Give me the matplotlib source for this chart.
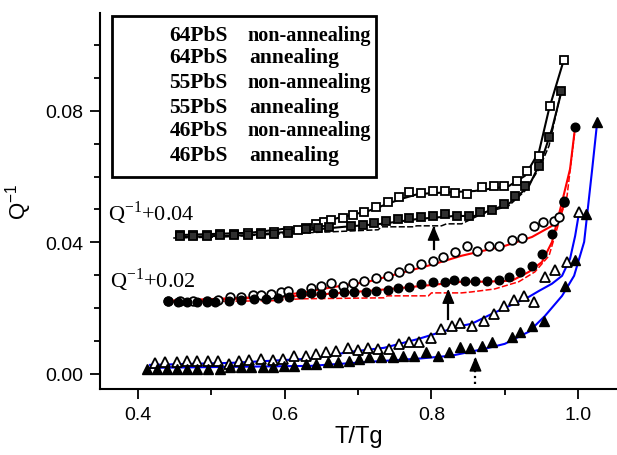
import matplotlib
matplotlib.use("Agg")
import matplotlib.pyplot as plt
from matplotlib.patches import Rectangle
from matplotlib.ticker import MultipleLocator, FormatStrFormatter

plt.rcParams['font.family'] = ['Liberation Sans', 'DejaVu Sans']
plt.rcParams['mathtext.fontset'] = 'custom'
plt.rcParams['mathtext.rm'] = 'Liberation Serif'
plt.rcParams['mathtext.sf'] = 'Liberation Sans'

# ---------------- 64PbS (curves shifted by +0.04) ----------------
x64_non = [0.4575, 0.4753, 0.4945, 0.5123, 0.5301, 0.5493, 0.5671, 0.5849, 0.6041, 0.6178,
           0.6288, 0.6425, 0.6534, 0.6630, 0.6795, 0.6932, 0.7082, 0.7247, 0.7411, 0.7562,
           0.7699, 0.7863, 0.8027, 0.8178, 0.8315, 0.8479, 0.8685, 0.8849, 0.8986, 0.9164,
           0.9301, 0.9466, 0.9616, 0.9808]
y64_non = [0.0422, 0.0422, 0.0422, 0.0426, 0.0426, 0.0429, 0.0429, 0.0432, 0.0435, 0.0438,
           0.0444, 0.0456, 0.0462, 0.0468, 0.0474, 0.0483, 0.0492, 0.0508, 0.0523, 0.0538,
           0.0553, 0.0550, 0.0556, 0.0556, 0.0550, 0.0547, 0.0568, 0.0571, 0.0571, 0.0587,
           0.0617, 0.0663, 0.0815, 0.0954]
x64_ann = [0.4575, 0.4753, 0.4945, 0.5123, 0.5301, 0.5493, 0.5671, 0.5849, 0.6041, 0.6288,
           0.6452, 0.6603, 0.6904, 0.7068, 0.7219, 0.7384, 0.7548, 0.7699, 0.7863, 0.8027,
           0.8178, 0.8342, 0.8507, 0.8658, 0.8822, 0.8986, 0.9137, 0.9274, 0.9466, 0.9603,
           0.9767]
y64_ann = [0.0419, 0.0419, 0.0419, 0.0422, 0.0422, 0.0422, 0.0426, 0.0426, 0.0429, 0.0441,
           0.0444, 0.0447, 0.0450, 0.0453, 0.0459, 0.0465, 0.0471, 0.0474, 0.0477, 0.0480,
           0.0486, 0.0480, 0.0480, 0.0492, 0.0498, 0.0517, 0.0541, 0.0571, 0.0632, 0.0720,
           0.0860]
x64_raw = [0.4479, 0.5151, 0.5973, 0.6658, 0.7274, 0.7315, 0.7767, 0.7795, 0.8137, 0.8205,
           0.8411, 0.8685, 0.9055, 0.9274, 0.9466, 0.9603, 0.9753]
y64_raw = [0.0413, 0.0416, 0.0426, 0.0432, 0.0438, 0.0447, 0.0447, 0.0450, 0.0450, 0.0456,
           0.0456, 0.0486, 0.0511, 0.0556, 0.0623, 0.0693, 0.0845]
x64_non_fit = [0.4575, 0.5534, 0.6219, 0.6671, 0.7137, 0.7589, 0.7822, 0.8315, 0.8589, 0.9055,
               0.9274, 0.9466, 0.9603, 0.9808]
y64_non_fit = [0.0422, 0.0429, 0.0447, 0.0471, 0.0495, 0.0532, 0.0547, 0.0553, 0.0556, 0.0571,
               0.0602, 0.0675, 0.0805, 0.0957]
x64_ann_fit = [0.4575, 0.5534, 0.6219, 0.6808, 0.7315, 0.7822, 0.8315, 0.8589, 0.9055, 0.9329,
               0.9507, 0.9644, 0.9781]
y64_ann_fit = [0.0416, 0.0422, 0.0435, 0.0447, 0.0456, 0.0471, 0.0480, 0.0480, 0.0517, 0.0571,
               0.0653, 0.0745, 0.0866]

# ---------------- 55PbS (curves shifted by +0.02) ----------------
x55_non = [0.4411, 0.4575, 0.4753, 0.4945, 0.5096, 0.5260, 0.5397, 0.5562, 0.5671, 0.5808,
           0.5945, 0.6041, 0.6219, 0.6356, 0.6493, 0.6630, 0.6795, 0.6932, 0.7082, 0.7247,
           0.7411, 0.7562, 0.7699, 0.7863, 0.8027, 0.8164, 0.8315, 0.8479, 0.8616, 0.8781,
           0.8918, 0.9096, 0.9233, 0.9397, 0.9521, 0.9671, 0.9740, 0.9808]
y55_non = [0.0222, 0.0222, 0.0222, 0.0222, 0.0225, 0.0234, 0.0234, 0.0240, 0.0240, 0.0243,
           0.0249, 0.0252, 0.0246, 0.0261, 0.0267, 0.0277, 0.0267, 0.0277, 0.0283, 0.0292,
           0.0298, 0.0310, 0.0322, 0.0334, 0.0343, 0.0356, 0.0371, 0.0389, 0.0374, 0.0389,
           0.0389, 0.0407, 0.0413, 0.0450, 0.0462, 0.0465, 0.0477, 0.0523]
x55_ann = [0.4411, 0.4548, 0.4671, 0.4808, 0.4945, 0.5055, 0.5233, 0.5397, 0.5575, 0.5740,
           0.5904, 0.6055, 0.6219, 0.6356, 0.6493, 0.6658, 0.6808, 0.6945, 0.7110, 0.7247,
           0.7411, 0.7548, 0.7699, 0.7863, 0.8027, 0.8178, 0.8301, 0.8452, 0.8589, 0.8753,
           0.8918, 0.9055, 0.9205, 0.9370, 0.9507, 0.9644, 0.9808, 0.9959]
y55_ann = [0.0222, 0.0219, 0.0219, 0.0219, 0.0219, 0.0219, 0.0222, 0.0225, 0.0228, 0.0228,
           0.0231, 0.0234, 0.0243, 0.0246, 0.0243, 0.0246, 0.0249, 0.0249, 0.0249, 0.0252,
           0.0255, 0.0261, 0.0264, 0.0274, 0.0280, 0.0280, 0.0286, 0.0283, 0.0283, 0.0283,
           0.0286, 0.0295, 0.0310, 0.0328, 0.0365, 0.0426, 0.0526, 0.0751]
x55_raw = [0.4411, 0.5808, 0.6219, 0.7356, 0.7397, 0.7959, 0.8000, 0.8411, 0.8548, 0.8863,
           0.9192, 0.9411, 0.9603, 0.9740, 0.9849, 0.9959]
y55_raw = [0.0219, 0.0222, 0.0228, 0.0231, 0.0237, 0.0237, 0.0246, 0.0246, 0.0249, 0.0258,
           0.0280, 0.0310, 0.0359, 0.0462, 0.0541, 0.0745]
x55_non_fit = [0.4397, 0.5767, 0.6219, 0.6671, 0.7137, 0.7589, 0.8041, 0.8411, 0.8644, 0.9000,
               0.9370, 0.9644, 0.9808]
y55_non_fit = [0.0222, 0.0234, 0.0246, 0.0264, 0.0280, 0.0307, 0.0334, 0.0359, 0.0371, 0.0389,
               0.0416, 0.0450, 0.0510]
x55_ann_fit = [0.4397, 0.6219, 0.7137, 0.7589, 0.8041, 0.8411, 0.8726, 0.9096, 0.9329, 0.9507,
               0.9644, 0.9781, 0.9890, 0.9959]
y55_ann_fit = [0.0219, 0.0237, 0.0252, 0.0261, 0.0271, 0.0280, 0.0280, 0.0283, 0.0310, 0.0340,
               0.0401, 0.0523, 0.0623, 0.0751]

# ---------------- 46PbS (no shift) ----------------
x46_non = [0.4233, 0.4370, 0.4534, 0.4671, 0.4808, 0.4959, 0.5096, 0.5233, 0.5370, 0.5507,
           0.5671, 0.5836, 0.5973, 0.6123, 0.6288, 0.6425, 0.6562, 0.6699, 0.6863, 0.7000,
           0.7137, 0.7274, 0.7425, 0.7562, 0.7699, 0.7836, 0.8000, 0.8137, 0.8274, 0.8384,
           0.8548, 0.8712, 0.8849, 0.8986, 0.9123, 0.9260, 0.9397, 0.9548, 0.9685, 0.9849,
           1.0014]
y46_non = [0.0033, 0.0036, 0.0036, 0.0040, 0.0040, 0.0040, 0.0040, 0.0030, 0.0040, 0.0043,
           0.0046, 0.0043, 0.0046, 0.0055, 0.0055, 0.0061, 0.0067, 0.0070, 0.0079, 0.0073,
           0.0079, 0.0076, 0.0076, 0.0091, 0.0097, 0.0097, 0.0109, 0.0137, 0.0146, 0.0155,
           0.0146, 0.0161, 0.0182, 0.0207, 0.0225, 0.0237, 0.0219, 0.0295, 0.0316, 0.0340,
           0.0492]
x46_ann = [0.4123, 0.4260, 0.4397, 0.4534, 0.4671, 0.4808, 0.4959, 0.5123, 0.5260, 0.5397,
           0.5534, 0.5699, 0.5836, 0.5986, 0.6123, 0.6288, 0.6425, 0.6589, 0.6726, 0.6877,
           0.7014, 0.7151, 0.7315, 0.7479, 0.7616, 0.7767, 0.7932, 0.8096, 0.8233, 0.8384,
           0.8521, 0.8685, 0.8822, 0.9096, 0.9205, 0.9370, 0.9534, 0.9822, 0.9959, 1.0110,
           1.0260]
y46_ann = [0.0015, 0.0015, 0.0015, 0.0015, 0.0015, 0.0015, 0.0015, 0.0015, 0.0021, 0.0021,
           0.0021, 0.0021, 0.0021, 0.0024, 0.0024, 0.0030, 0.0030, 0.0036, 0.0036, 0.0040,
           0.0046, 0.0052, 0.0052, 0.0052, 0.0055, 0.0055, 0.0067, 0.0055, 0.0067, 0.0082,
           0.0079, 0.0085, 0.0097, 0.0112, 0.0128, 0.0146, 0.0161, 0.0267, 0.0347, 0.0486,
           0.0766]
x46_non_fit = [0.4164, 0.5260, 0.6356, 0.6904, 0.7356, 0.7822, 0.8411, 0.8548, 0.8822, 0.9068,
               0.9329, 0.9466, 0.9644, 0.9781, 0.9890, 0.9959, 1.0014]
y46_non_fit = [0.0027, 0.0033, 0.0046, 0.0067, 0.0079, 0.0106, 0.0146, 0.0152, 0.0182, 0.0207,
               0.0234, 0.0252, 0.0274, 0.0298, 0.0350, 0.0419, 0.0492]
x46_ann_fit = [0.4164, 0.6356, 0.7137, 0.7822, 0.8274, 0.8726, 0.9000, 0.9329, 0.9548, 0.9781,
               0.9945, 1.0082, 1.0192, 1.0260]
y46_ann_fit = [0.0018, 0.0024, 0.0036, 0.0046, 0.0055, 0.0076, 0.0091, 0.0128, 0.0176, 0.0237,
               0.0298, 0.0401, 0.0623, 0.0766]

legend_samples = ["64PbS", "64PbS", "55PbS", "55PbS", "46PbS", "46PbS"]
legend_states = ["non-annealing", "annealing", "non-annealing", "annealing",
                 "non-annealing", "annealing"]

# arrows marking the onset temperatures
arrow_x = [0.803, 0.823, 0.860]
arrow_y0 = [0.0380, 0.0167, -0.0030]
arrow_y1 = [0.0450, 0.0258, 0.0052]
arrow_ls = ["-", "-", ":"]

fig = plt.figure(figsize=(6.17, 4.56), dpi=100)
ax = fig.add_axes([0.162, 0.145, 0.838, 0.824])

# fitted curves and raw traces
ax.plot(x64_non_fit, y64_non_fit, color='black', lw=1.5, zorder=2)
ax.plot(x64_ann_fit, y64_ann_fit, color='black', lw=1.5, zorder=2)
ax.plot(x64_raw, y64_raw, color='black', lw=1.1, ls=(0, (4, 1.5)), zorder=2)
ax.plot(x55_non_fit, y55_non_fit, color='red', lw=1.5, zorder=2)
ax.plot(x55_ann_fit, y55_ann_fit, color='red', lw=1.5, zorder=2)
ax.plot(x55_raw, y55_raw, color='red', lw=1.1, ls=(0, (4, 1.5)), zorder=2)
ax.plot(x46_non_fit, y46_non_fit, color='blue', lw=1.5, zorder=2)
ax.plot(x46_ann_fit, y46_ann_fit, color='blue', lw=1.5, zorder=2)

# measured points
ax.plot(x64_non, y64_non, ls='none', marker='s', ms=5.8, mfc='white', mec='black', mew=1.3, zorder=3)
ax.plot(x64_ann, y64_ann, ls='none', marker='s', ms=5.8, mfc='#303030', mec='black', mew=1.3, zorder=3)
ax.plot(x55_non, y55_non, ls='none', marker='o', ms=6.2, mfc='white', mec='black', mew=1.3, zorder=3)
ax.plot(x55_ann, y55_ann, ls='none', marker='o', ms=6.2, mfc='black', mec='black', mew=1.0, zorder=3)
ax.plot(x46_non, y46_non, ls='none', marker='^', ms=7.5, mfc='white', mec='black', mew=1.3, zorder=3)
ax.plot(x46_ann, y46_ann, ls='none', marker='^', ms=7.5, mfc='black', mec='black', mew=1.0, zorder=3)

for xa, ya0, ya1, lsa in zip(arrow_x, arrow_y0, arrow_y1, arrow_ls):
    ax.plot([xa, xa], [ya0, ya1 - 0.0008], color='black', lw=1.6, ls=lsa, zorder=4)
    ax.annotate('', xy=(xa, ya1), xytext=(xa, ya1 - 0.0022),
                arrowprops=dict(arrowstyle='-|>,head_length=0.9,head_width=0.38',
                                mutation_scale=10, color='black', lw=1.0,
                                shrinkA=0, shrinkB=0),
                zorder=4)

serif = ['Liberation Serif', 'DejaVu Serif']
ax.text(0.359, 0.0490, r'Q$^{-1}$+0.04', family=serif, fontsize=16, va='center', ha='left')
ax.text(0.362, 0.0287, r'Q$^{-1}$+0.02', family=serif, fontsize=16, va='center', ha='left')

# boxed sample key
ax.add_patch(Rectangle((0.3644, 0.0599), 0.3603, 0.0489, fill=False, lw=2.0,
                       edgecolor='black', zorder=5))
row_y = [0.1031, 0.0964, 0.0888, 0.0812, 0.0742, 0.0666]
for yy, s, st in zip(row_y, legend_samples, legend_states):
    ax.text(0.4425, yy, s, family=serif, fontweight='bold', fontsize=15.5, va='center', ha='left')
    ax.text(0.5493 if st == 'non-annealing' else 0.5520, yy, st, family=serif,
            fontweight='bold', fontsize=14.5 if st == 'non-annealing' else 15.5,
            va='center', ha='left')

ax.set_xlim(0.348, 1.053)
ax.set_ylim(-0.0046, 0.1097)
ax.xaxis.set_major_locator(MultipleLocator(0.2))
ax.xaxis.set_minor_locator(MultipleLocator(0.1))
ax.yaxis.set_major_locator(MultipleLocator(0.04))
ax.yaxis.set_minor_locator(MultipleLocator(0.01))
ax.xaxis.set_major_formatter(FormatStrFormatter('%.1f'))
ax.yaxis.set_major_formatter(FormatStrFormatter('%.2f'))
ax.tick_params(which='major', direction='out', length=7, width=1.3, labelsize=14, pad=5)
ax.tick_params(which='minor', direction='out', length=4, width=1.3)
for side in ('top', 'right'):
    ax.spines[side].set_visible(False)
for side in ('left', 'bottom'):
    ax.spines[side].set_linewidth(1.5)

ax.set_xlabel('T/Tg', fontsize=17, labelpad=2)
ax.set_ylabel(r'Q$^{\mathsf{-1}}$', fontsize=16, labelpad=8)

fig.savefig('out.png', dpi=100)
